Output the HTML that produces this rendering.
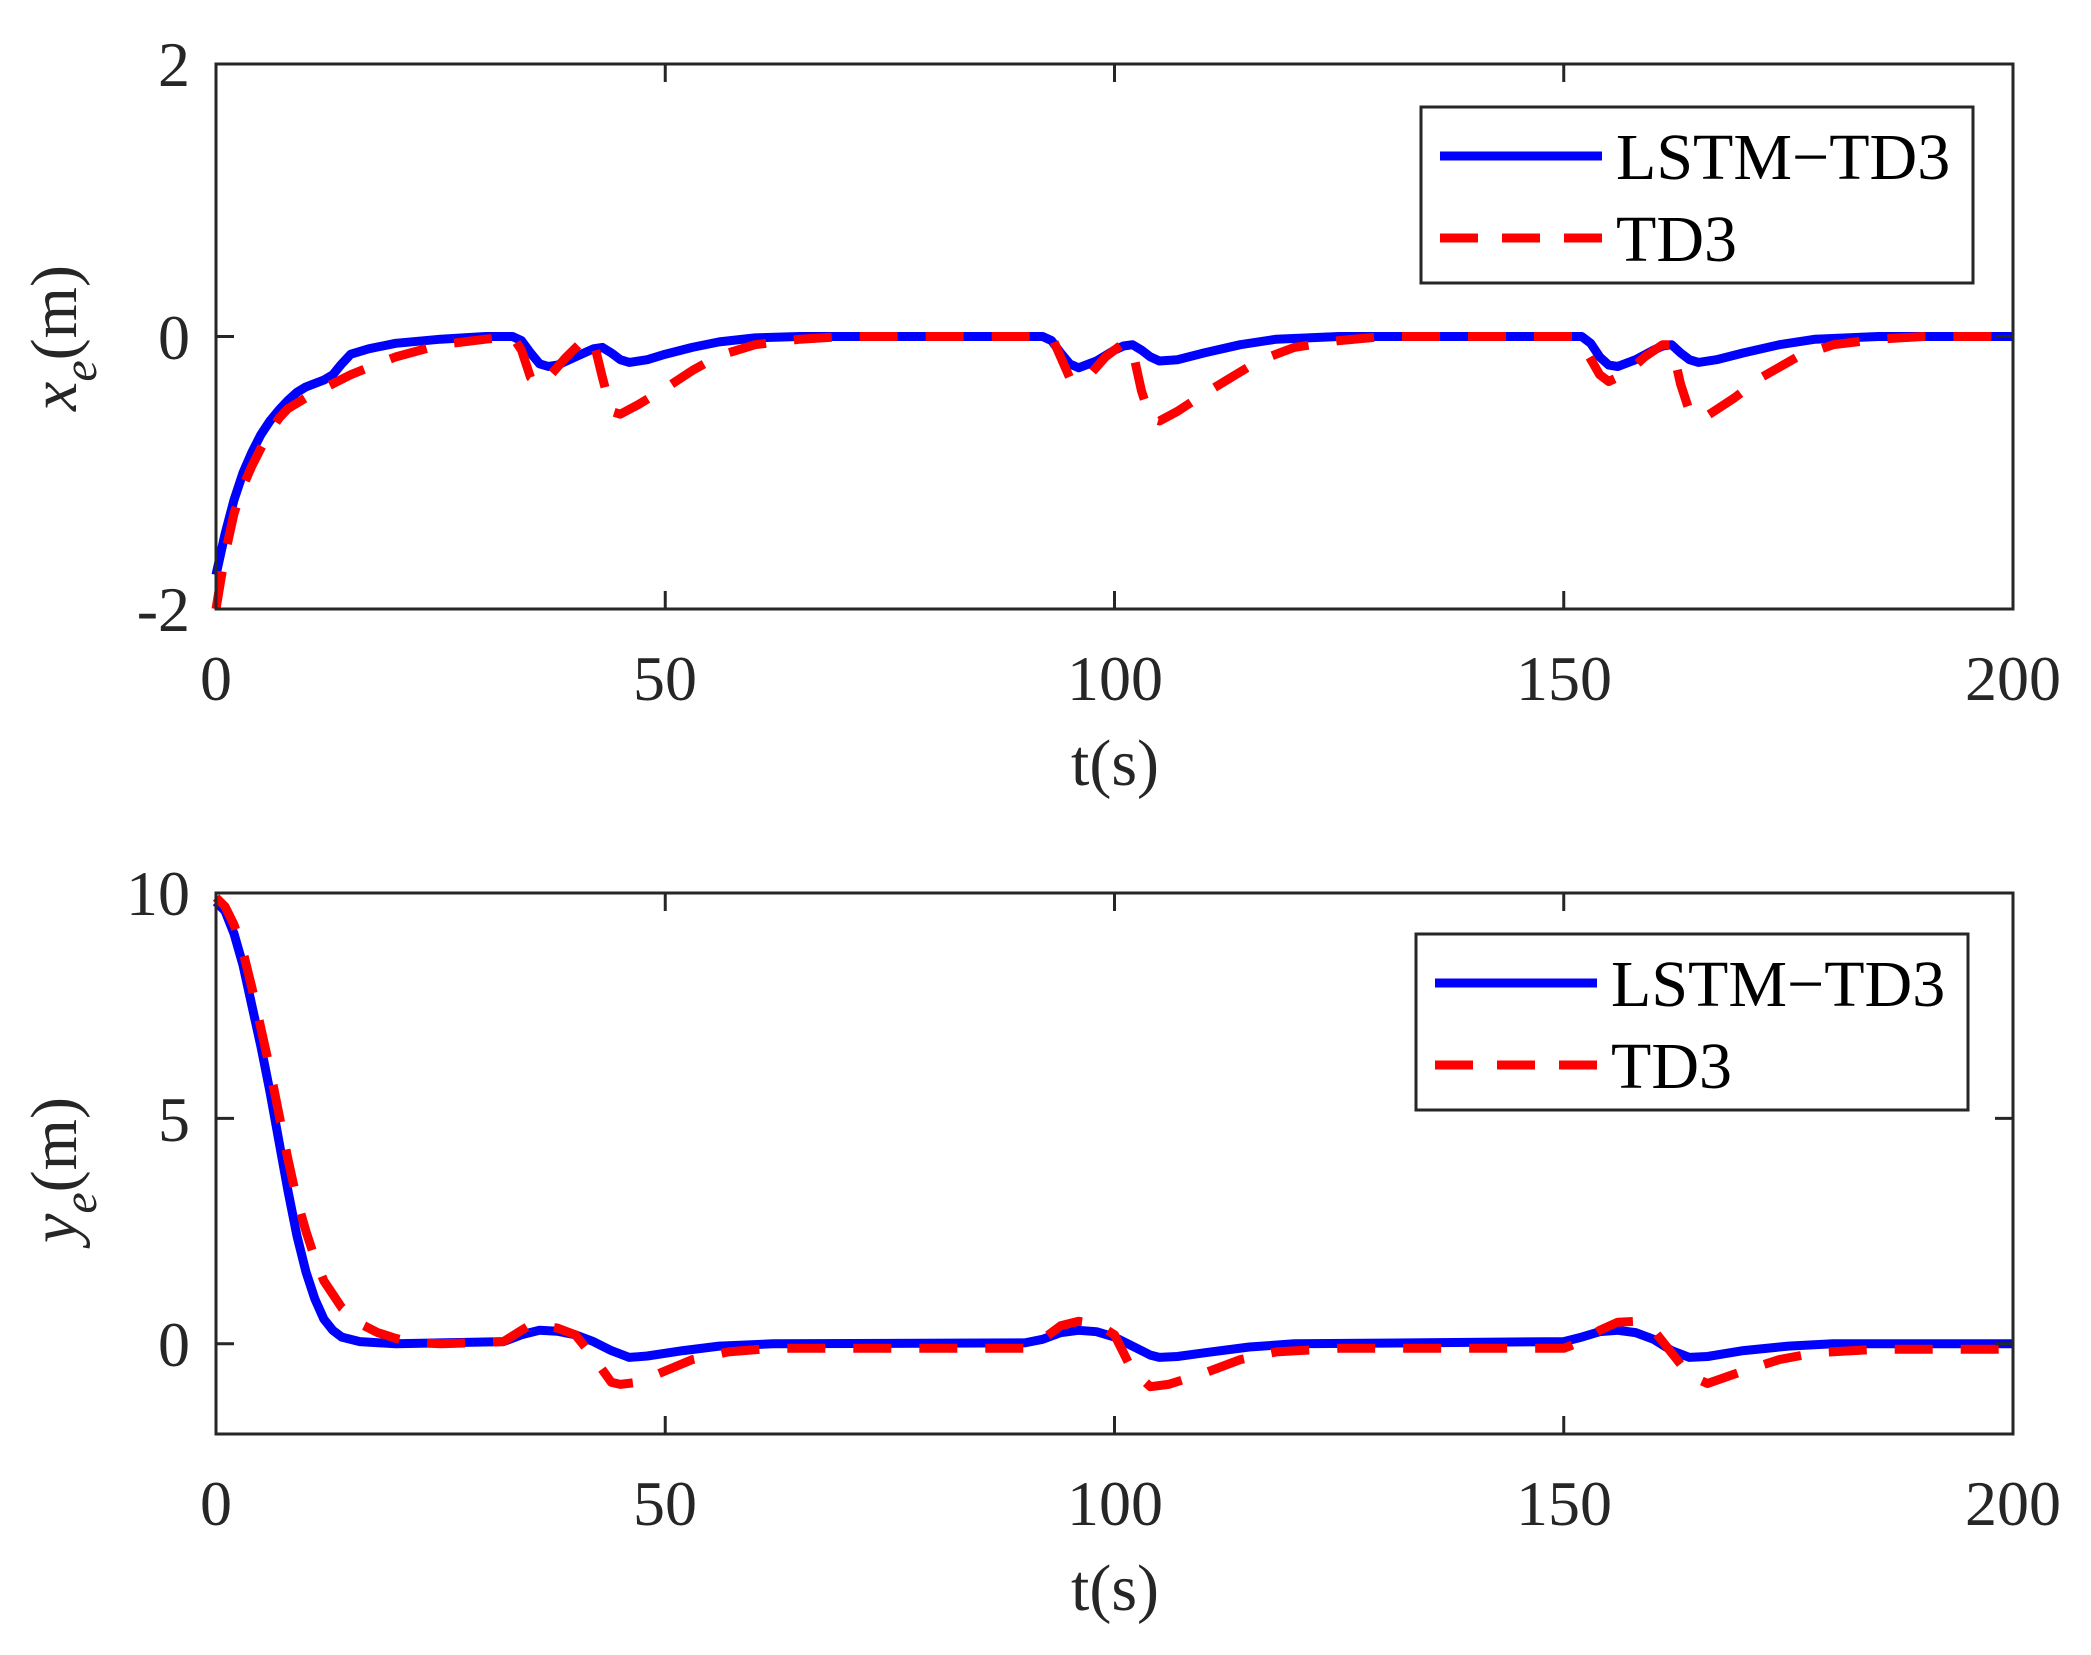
<!DOCTYPE html>
<html><head><meta charset="utf-8"><style>
html,body{margin:0;padding:0;background:#fff;}
svg{display:block;}
text{font-family:"Liberation Serif",serif;fill:#262626;}
</style></head><body>
<svg id="s" width="2091" height="1655" viewBox="0 0 2091 1655" xmlns="http://www.w3.org/2000/svg">
<rect width="2091" height="1655" fill="#fff"/>
<g id="plots"></g>
<rect x="216" y="64" width="1797" height="545" fill="none" stroke="#262626" stroke-width="3"/>
<rect x="216" y="893" width="1797" height="541" fill="none" stroke="#262626" stroke-width="3"/>
<g id="ticks" stroke="#262626" stroke-width="3"></g>
<g font-size="64" text-anchor="end">
<text x="190" y="86">2</text>
<text x="190" y="359">0</text>
<text x="190" y="631">-2</text>
<text x="190" y="915">10</text>
<text x="190" y="1141">5</text>
<text x="190" y="1366">0</text>
</g>
<g font-size="64" text-anchor="middle">
<text x="216" y="700">0</text><text x="665" y="700">50</text><text x="1115" y="700">100</text><text x="1564" y="700">150</text><text x="2013" y="700">200</text>
<text x="216" y="1525">0</text><text x="665" y="1525">50</text><text x="1115" y="1525">100</text><text x="1564" y="1525">150</text><text x="2013" y="1525">200</text>
<text x="1115" y="785" font-size="66">t(s)</text>
<text x="1115" y="1610" font-size="66">t(s)</text>
</g>
<text transform="translate(76,338) rotate(-90)" font-size="66" text-anchor="middle"><tspan font-style="italic">x</tspan><tspan font-style="italic" font-size="48" dy="20">e</tspan><tspan dy="-20">(m)</tspan></text>
<text transform="translate(76,1170) rotate(-90)" font-size="66" text-anchor="middle"><tspan font-style="italic">y</tspan><tspan font-style="italic" font-size="48" dy="20">e</tspan><tspan dy="-20">(m)</tspan></text>
<g>
<rect x="1421" y="107" width="552" height="176" fill="#fff" stroke="#262626" stroke-width="3"/>
<line x1="1440" y1="156" x2="1602" y2="156" stroke="#0000ff" stroke-width="9"/>
<line x1="1440" y1="238" x2="1602" y2="238" stroke="#ff0000" stroke-width="9" stroke-dasharray="38,24"/>
<text x="1616" y="179" font-size="66" style="fill:#000">LSTM−TD3</text>
<text x="1616" y="261" font-size="66" style="fill:#000">TD3</text>
</g>
<g>
<rect x="1416" y="934" width="552" height="176" fill="#fff" stroke="#262626" stroke-width="3"/>
<line x1="1435" y1="983" x2="1597" y2="983" stroke="#0000ff" stroke-width="9"/>
<line x1="1435" y1="1065" x2="1597" y2="1065" stroke="#ff0000" stroke-width="9" stroke-dasharray="38,24"/>
<text x="1611" y="1006" font-size="66" style="fill:#000">LSTM−TD3</text>
<text x="1611" y="1088" font-size="66" style="fill:#000">TD3</text>
</g>
</svg>
<script>
var L=216,R=2013;
function X(t){return L+(R-L)*t/200;}
function mk(pts,y0,y1,v0,v1,color,dash){
  var d="";
  for(var i=0;i<pts.length;i++){var t=pts[i][0],v=pts[i][1];
    var y=y0+(v1-v)/(v1-v0)*(y1-y0);
    d+=(i?"L":"M")+X(t).toFixed(1)+","+y.toFixed(1);}
  var p=document.createElementNS("http://www.w3.org/2000/svg","path");
  p.setAttribute("d",d);p.setAttribute("fill","none");p.setAttribute("stroke",color);
  p.setAttribute("stroke-width","9");p.setAttribute("stroke-linejoin","round");
  if(dash)p.setAttribute("stroke-dasharray","38,28");
  document.getElementById("plots").appendChild(p);
}
var lx=[[0,-1.75],[1,-1.45],[2,-1.2],[3,-1.0],[4,-0.85],[5,-0.72],[6,-0.62],[7,-0.54],[8,-0.47],[9,-0.41],[10,-0.37],[12,-0.32],[13,-0.28],[14,-0.2],[15,-0.13],[17,-0.09],[20,-0.05],[25,-0.02],[30,0],[33,0],[34,-0.03],[35,-0.12],[36,-0.2],[37,-0.22],[38,-0.21],[40,-0.15],[42,-0.09],[43,-0.08],[44,-0.12],[45,-0.17],[46,-0.19],[48,-0.17],[50,-0.13],[53,-0.08],[56,-0.04],[60,-0.01],[65,0],[92,0],[93,-0.03],[94,-0.12],[95,-0.2],[96,-0.23],[98,-0.18],[100,-0.1],[101,-0.07],[102,-0.06],[103,-0.1],[104,-0.15],[105,-0.18],[107,-0.17],[110,-0.12],[114,-0.06],[118,-0.02],[125,0],[152,0],[153,-0.05],[154,-0.15],[155,-0.21],[156,-0.22],[158,-0.17],[160,-0.1],[161,-0.07],[162,-0.06],[163,-0.12],[164,-0.17],[165,-0.19],[167,-0.17],[170,-0.12],[174,-0.06],[178,-0.02],[185,0],[200,0]];
var tx=[[0,-2],[1,-1.6],[2,-1.3],[3,-1.1],[4,-0.95],[5,-0.82],[6,-0.7],[7,-0.6],[8,-0.53],[10,-0.45],[12,-0.38],[15,-0.28],[18,-0.2],[20,-0.15],[25,-0.06],[30,-0.02],[33,0],[34,-0.1],[35,-0.3],[36,-0.35],[37,-0.3],[39,-0.15],[41,-0.02],[42,-0.03],[43,-0.3],[44,-0.55],[45,-0.57],[47,-0.5],[50,-0.38],[53,-0.25],[56,-0.14],[60,-0.06],[65,-0.02],[70,0],[93,0],[94,-0.15],[95,-0.3],[96,-0.33],[97,-0.3],[99,-0.15],[101,-0.05],[102,-0.1],[103,-0.4],[104,-0.6],[105,-0.62],[107,-0.55],[110,-0.42],[113,-0.3],[116,-0.18],[120,-0.08],[125,-0.03],[130,0],[151,0],[152,-0.05],[154,-0.28],[155,-0.33],[157,-0.27],[159,-0.15],[161,-0.06],[162,-0.06],[163,-0.35],[164,-0.55],[165,-0.6],[166,-0.58],[169,-0.45],[172,-0.3],[176,-0.15],[180,-0.06],[185,-0.02],[190,0],[200,0]];
var ly=[[0,9.8],[1,9.6],[2,9.1],[3,8.4],[4,7.5],[5,6.6],[6,5.6],[7,4.5],[8,3.4],[9,2.4],[10,1.6],[11,1.0],[12,0.55],[13,0.3],[14,0.15],[16,0.05],[20,0],[32,0.05],[34,0.2],[36,0.3],[38,0.28],[40,0.2],[42,0.05],[44,-0.15],[46,-0.3],[48,-0.27],[52,-0.15],[56,-0.05],[62,0],[90,0.02],[92,0.1],[94,0.25],[96,0.3],[98,0.27],[100,0.15],[102,-0.05],[104,-0.25],[105,-0.3],[107,-0.28],[110,-0.2],[115,-0.07],[120,0],[150,0.05],[152,0.15],[154,0.27],[156,0.3],[158,0.25],[160,0.1],[162,-0.15],[164,-0.3],[166,-0.28],[170,-0.15],[175,-0.05],[180,0],[200,0]];
var ty=[[0,9.9],[1,9.7],[2,9.3],[3,8.7],[4,7.9],[5,7.0],[6,6.1],[7,5.1],[8,4.1],[9,3.2],[10,2.5],[11,1.9],[12,1.4],[14,0.8],[16,0.45],[18,0.25],[20,0.12],[22,0.03],[25,0],[32,0.05],[34,0.3],[35,0.42],[36,0.42],[38,0.35],[40,0.2],[42,-0.3],[44,-0.85],[45,-0.9],[47,-0.85],[50,-0.6],[53,-0.35],[57,-0.18],[62,-0.1],[90,-0.1],[92,0.1],[94,0.4],[96,0.5],[98,0.45],[100,0.2],[101,-0.2],[102,-0.6],[104,-0.95],[106,-0.9],[110,-0.65],[114,-0.35],[118,-0.18],[125,-0.1],[150,-0.1],[152,0.05],[154,0.3],[156,0.48],[158,0.5],[160,0.3],[162,-0.2],[164,-0.7],[166,-0.88],[170,-0.6],[174,-0.35],[178,-0.2],[185,-0.12],[200,-0.12]];
mk(lx,64,609,-2,2,"#0000ff",false);
mk(tx,64,609,-2,2,"#ff0000",true);
mk(ly,893,1434,-2,10,"#0000ff",false);
mk(ty,893,1434,-2,10,"#ff0000",true);
var g=document.getElementById("ticks"),h="";
[0,50,100,150,200].forEach(function(t){var x=X(t);
 h+='<line x1="'+x+'" y1="609" x2="'+x+'" y2="591"/><line x1="'+x+'" y1="64" x2="'+x+'" y2="82"/>';
 h+='<line x1="'+x+'" y1="1434" x2="'+x+'" y2="1416"/><line x1="'+x+'" y1="893" x2="'+x+'" y2="911"/>';});
[64,336.5,609].forEach(function(y){h+='<line x1="216" y1="'+y+'" x2="234" y2="'+y+'"/><line x1="2013" y1="'+y+'" x2="1995" y2="'+y+'"/>';});
[893,1118.4,1343.8].forEach(function(y){h+='<line x1="216" y1="'+y+'" x2="234" y2="'+y+'"/><line x1="2013" y1="'+y+'" x2="1995" y2="'+y+'"/>';});
g.innerHTML=h;
</script>
</body></html>
